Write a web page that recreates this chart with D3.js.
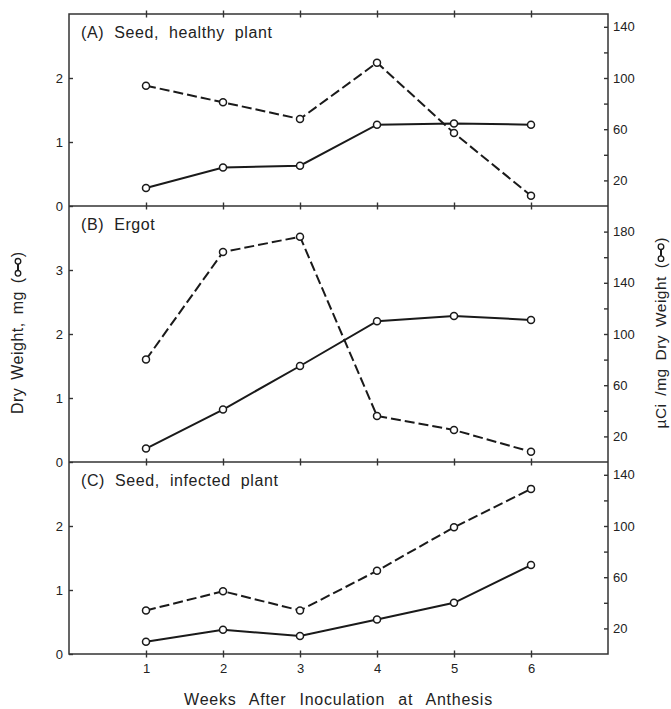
<!DOCTYPE html>
<html>
<head>
<meta charset="utf-8">
<script src="https://cdn.jsdelivr.net/npm/d3@7"></script>
<style>
  body { margin: 0; background: #fff; }
  svg { font-family: "Liberation Sans", Arial, sans-serif; }
  .axis text { font-size: 13px; fill: #222; }
  .axis path, .axis line { stroke: #333; stroke-width: 1.4; }
</style>
</head>
<body>
<div id="vis"></div>
<script>
const FRAME_WIDTH = 671;
const FRAME_HEIGHT = 709;
const MARGINS = {left: 69, right: 63, top: 14, bottom: 55};

const VIS_WIDTH = FRAME_WIDTH - MARGINS.left - MARGINS.right;
const VIS_HEIGHT = FRAME_HEIGHT - MARGINS.top - MARGINS.bottom;

// data
const weeks = [1, 2, 3, 4, 5, 6];
const panelLabels = ["(A) Seed, healthy plant", "(B) Ergot", "(C) Seed, infected plant"];
const panelMaxDry = [3, 4, 3];           // left axis top, mg
const curieRatio = 50;                   // right axis = 50 x left axis
const rightTickLabels = [20, 60, 100, 140, 180];

const healthyDry = [0.28, 0.60, 0.63, 1.27, 1.29, 1.27];
const healthyCi = [94, 81, 68, 112, 57, 8];
const ergotDry = [0.21, 0.82, 1.50, 2.20, 2.28, 2.22];
const ergotCi = [80, 164, 176, 36, 25, 8];
const infectedDry = [0.19, 0.38, 0.28, 0.54, 0.80, 1.39];
const infectedCi = [34, 49, 34, 65, 99, 129];

const panelDry = [healthyDry, ergotDry, infectedDry];
const panelCi = [healthyCi, ergotCi, infectedCi];

const X_SCALE = d3.scaleLinear()
                    .domain([0, 7])
                    .range([MARGINS.left, MARGINS.left + VIS_WIDTH]);

const SVG = d3.select("#vis")
              .append("svg")
                .attr("width", FRAME_WIDTH)
                .attr("height", FRAME_HEIGHT);

// vertical layout: every left-axis unit has the same height
const unitPx = VIS_HEIGHT / d3.sum(panelMaxDry);
let panelTop = MARGINS.top;
const panelBottoms = [];

panelLabels.forEach((label, i) => {
  const h = panelMaxDry[i] * unitPx;
  const bottom = panelTop + h;
  panelBottoms.push(bottom);

  const yLeft = d3.scaleLinear().domain([0, panelMaxDry[i]]).range([bottom, panelTop]);
  const yRight = d3.scaleLinear().domain([0, panelMaxDry[i] * curieRatio]).range([bottom, panelTop]);

  // left axis (dry weight)
  SVG.append("g")
      .attr("class", "axis")
      .attr("transform", "translate(" + MARGINS.left + ",0)")
      .call(d3.axisLeft(yLeft)
              .tickValues(d3.range(0, panelMaxDry[i]))
              .tickSizeInner(-4).tickSizeOuter(0).tickPadding(6)
              .tickFormat(d3.format("d")))
      .call(g => g.select(".domain").remove());

  // right axis (uCi / mg)
  const rTicks = d3.range(20, panelMaxDry[i] * curieRatio, 20);
  SVG.append("g")
      .attr("class", "axis")
      .attr("transform", "translate(" + (MARGINS.left + VIS_WIDTH) + ",0)")
      .call(d3.axisRight(yRight)
              .tickValues(rTicks)
              .tickSizeInner(-4).tickSizeOuter(0).tickPadding(5)
              .tickFormat(d => rightTickLabels.includes(d) ? d : ""))
      .call(g => g.select(".domain").remove());

  // panel title
  SVG.append("text")
      .attr("x", MARGINS.left + 12)
      .attr("y", panelTop + 24)
      .attr("font-size", 16)
      .attr("word-spacing", 5)
      .attr("letter-spacing", 0.6)
      .attr("fill", "#222")
      .text(label);

  // dry weight, solid
  const dryLine = d3.line().x((d, j) => X_SCALE(weeks[j])).y(d => yLeft(d));
  SVG.append("path")
      .datum(panelDry[i])
      .attr("d", dryLine)
      .attr("fill", "none")
      .attr("stroke", "#1a1a1a")
      .attr("stroke-width", 2);

  // specific activity, dashed
  const ciLine = d3.line().x((d, j) => X_SCALE(weeks[j])).y(d => yRight(d));
  SVG.append("path")
      .datum(panelCi[i])
      .attr("d", ciLine)
      .attr("fill", "none")
      .attr("stroke", "#1a1a1a")
      .attr("stroke-width", 2)
      .attr("stroke-dasharray", "10,4");

  // circles
  SVG.selectAll(null)
      .data(panelDry[i].map((d, j) => [weeks[j], yLeft(d)])
              .concat(panelCi[i].map((d, j) => [weeks[j], yRight(d)])))
      .enter()
      .append("circle")
        .attr("cx", d => X_SCALE(d[0]))
        .attr("cy", d => d[1])
        .attr("r", 3.5)
        .attr("fill", "#fff")
        .attr("stroke", "#1a1a1a")
        .attr("stroke-width", 1.5);

  panelTop = bottom;
});

// frame and panel dividers
SVG.append("rect")
    .attr("x", MARGINS.left)
    .attr("y", MARGINS.top)
    .attr("width", VIS_WIDTH)
    .attr("height", VIS_HEIGHT)
    .attr("fill", "none")
    .attr("stroke", "#333")
    .attr("stroke-width", 1.5);

panelBottoms.slice(0, -1).forEach(y => {
  SVG.append("line")
      .attr("x1", MARGINS.left).attr("x2", MARGINS.left + VIS_WIDTH)
      .attr("y1", y).attr("y2", y)
      .attr("stroke", "#333")
      .attr("stroke-width", 1.5);
});

// week ticks crossing every horizontal line
[MARGINS.top].concat(panelBottoms).forEach(y => {
  SVG.append("g")
      .attr("class", "axis")
      .attr("transform", "translate(0," + (y - 3.5) + ")")
      .call(d3.axisBottom(X_SCALE).tickValues(weeks)
              .tickSizeInner(7).tickSizeOuter(0).tickFormat(""))
      .call(g => g.select(".domain").remove());
});

// week labels
SVG.append("g")
    .attr("class", "axis")
    .attr("transform", "translate(0," + (MARGINS.top + VIS_HEIGHT) + ")")
    .call(d3.axisBottom(X_SCALE).tickValues(weeks)
            .tickSize(0).tickPadding(10).tickFormat(d3.format("d")))
    .call(g => g.select(".domain").remove());

SVG.append("text")
    .attr("x", MARGINS.left + VIS_WIDTH / 2)
    .attr("y", 705)
    .attr("text-anchor", "middle")
    .attr("font-size", 16)
    .attr("word-spacing", 8)
    .attr("letter-spacing", 0.75)
    .attr("fill", "#222")
    .text("Weeks After Inoculation at Anthesis");

// rotated axis titles with a small line-and-circle key
function axisTitle(x, label, size) {
  const g = SVG.append("g")
              .attr("transform", "translate(" + x + ",333) rotate(-90)");
  const t1 = g.append("text").attr("font-size", size).attr("fill", "#222")
              .attr("word-spacing", 3).attr("letter-spacing", 0.5)
              .text(label + " (");
  const t2 = g.append("text").attr("font-size", size).attr("fill", "#222").text(")");
  const w1 = t1.node().getComputedTextLength();
  const w2 = t2.node().getComputedTextLength();
  const symW = 20;
  const start = -(w1 + symW + w2) / 2;
  t1.attr("x", start);
  t2.attr("x", start + w1 + symW);
  const sx = start + w1 + 4;
  g.append("line")
      .attr("x1", sx).attr("x2", sx + symW - 8)
      .attr("y1", -5).attr("y2", -5)
      .attr("stroke", "#1a1a1a").attr("stroke-width", 2);
  g.selectAll(null).data([sx, sx + symW - 8]).enter()
    .append("circle")
      .attr("cx", d => d).attr("cy", -5).attr("r", 2.8)
      .attr("fill", "#fff").attr("stroke", "#1a1a1a").attr("stroke-width", 1.3);
}

axisTitle(23, "Dry Weight, mg", 16);
axisTitle(666, "\u00b5Ci /mg Dry Weight", 15.5);
</script>
</body>
</html>
